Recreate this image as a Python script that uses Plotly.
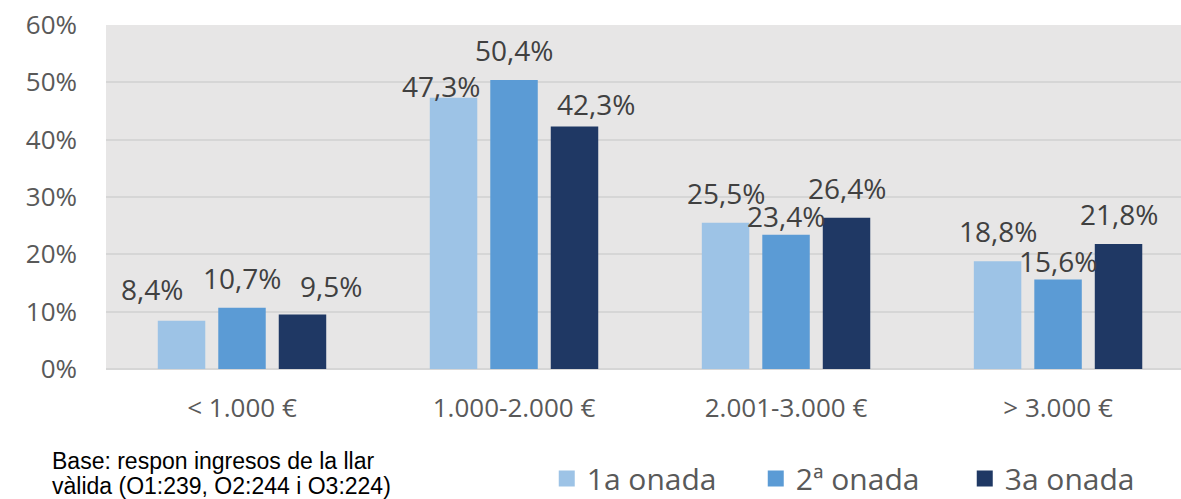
import plotly.graph_objects as go

categories = ["< 1.000 €", "1.000-2.000 €", "2.001-3.000 €", "> 3.000 €"]
wave1 = [8.4, 47.3, 25.5, 18.8]
wave2 = [10.7, 50.4, 23.4, 15.6]
wave3 = [9.5, 42.3, 26.4, 21.8]
series_names = ["1a onada", "2ª onada", "3a onada"]
y_ticks = [0, 10, 20, 30, 40, 50, 60]
note_lines = ["Base: respon ingresos de la llar", "vàlida (O1:239, O2:244 i O3:224)"]

# ---- styling ----
colors = ["#9dc3e6", "#5b9bd5", "#1f3864"]
BARGAP = 0.333
BARGROUPGAP = 0.215
LABEL_FONT = dict(family="Open Sans", size=28, color="#404040")
# manual label nudges (series index, category index) -> (dx px, dy px), like the original's moved labels
LABEL_NUDGE = {(0, 0): (-30, 2), (2, 0): (29, -1), (0, 1): (-13, -18), (2, 1): (21, -8),
               (1, 2): (0, -11), (1, 3): (0, -11)}
BASE_YSHIFT = 30

fig = go.Figure()
all_series = [wave1, wave2, wave3]
for name, vals, col in zip(series_names, all_series, colors):
    fig.add_trace(go.Bar(
        x=categories, y=vals, name=name, showlegend=False,
        marker=dict(color=col, line=dict(width=0)),
        hoverinfo="x+y",
    ))
# legend entries (square swatches)
for name, col in zip(series_names, colors):
    fig.add_trace(go.Scatter(
        x=[None], y=[None], mode="markers", name=name,
        marker=dict(symbol="square", size=20, color=col),
    ))

slot = (1 - BARGAP) / 3
annotations = []
for k, vals in enumerate(all_series):
    for i, v in enumerate(vals):
        dx, dy = LABEL_NUDGE.get((k, i), (0, 0))
        annotations.append(dict(
            x=i + (k - 1) * slot, y=v, xref="x", yref="y",
            text=f"{v:.1f}%".replace(".", ","), showarrow=False,
            xanchor="center", yanchor="middle",
            xshift=dx, yshift=BASE_YSHIFT + dy, font=LABEL_FONT))

note_y = [-0.267, -0.340]
for line, yy in zip(note_lines, note_y):
    annotations.append(dict(
        text=line, xref="paper", yref="paper", x=-0.052, y=yy,
        xanchor="left", yanchor="middle", showarrow=False, align="left",
        font=dict(family="Liberation Sans", size=23, color="#000000")))

fig.update_layout(
    width=1181, height=499,
    margin=dict(l=106, r=0, t=25, b=130, autoexpand=False),
    paper_bgcolor="white", plot_bgcolor="#e7e6e6",
    barmode="group", bargap=BARGAP, bargroupgap=BARGROUPGAP,
    font=dict(family="Open Sans", color="#595959"),
    yaxis=dict(range=[0, 60], tickvals=y_ticks, ticktext=[f"{t}%" for t in y_ticks],
               gridcolor="#d6d6d6", gridwidth=1.5, zeroline=True, zerolinecolor="#d6d6d6",
               zerolinewidth=1.5, tickfont=dict(size=26, color="#595959"),
               ticks="", ticklabelstandoff=28, showline=False, automargin=False),
    xaxis=dict(range=[-0.5, 3.452], tickfont=dict(size=26, color="#595959"),
               showline=False, ticks="", ticklabelstandoff=21, automargin=False),
    legend=dict(orientation="h", x=0.41, xanchor="left", y=-0.318, yanchor="middle",
                font=dict(size=30, color="#595959"), itemwidth=30,
                entrywidth=164, entrywidthmode="pixels",
                traceorder="normal", bgcolor="rgba(0,0,0,0)"),
    showlegend=True,
    annotations=annotations,
)

fig.write_html("out.html", config={"displayModeBar": False},
               post_script="document.body.style.margin='0';document.body.style.overflow='hidden';")
